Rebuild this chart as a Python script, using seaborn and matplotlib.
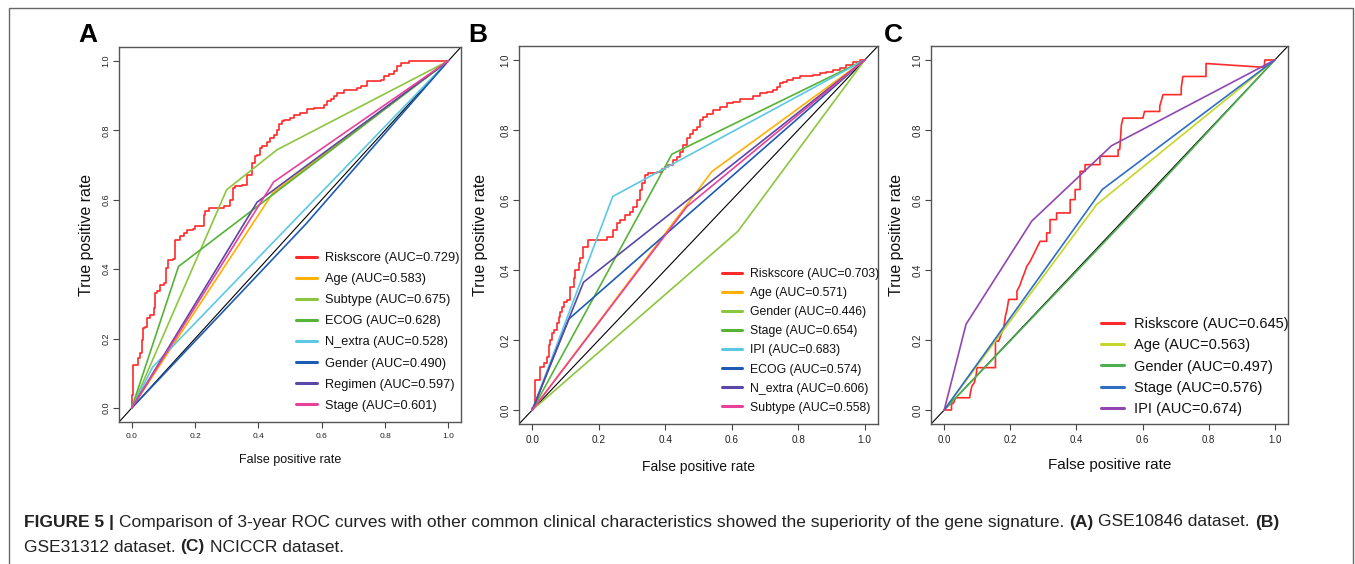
import numpy as np
import matplotlib
matplotlib.use("Agg")
import matplotlib.pyplot as plt
import seaborn as sns
from matplotlib import font_manager
from matplotlib.patches import Rectangle

W, H = 1355, 564

# ---------------- data ----------------
# panel A : GSE10846
a_names = ["Riskscore", "Age", "Subtype", "ECOG", "N_extra", "Gender", "Regimen", "Stage"]
a_auc = [0.729, 0.583, 0.675, 0.628, 0.528, 0.490, 0.597, 0.601]
a_colors = ["#FF2A2A", "#FFB000", "#8CC63E", "#55B337", "#5CC8E3", "#1D5BB5", "#5A47A8", "#E8409B"]
a_risk_fpr = [0.0, 0.005, 0.019, 0.026, 0.032, 0.037, 0.042, 0.048, 0.058, 0.069, 0.074, 0.079, 0.090,
              0.103, 0.109, 0.116, 0.131, 0.137, 0.153, 0.164, 0.174, 0.195, 0.200, 0.227, 0.232, 0.243,
              0.290, 0.311, 0.320, 0.327, 0.348, 0.364, 0.380, 0.390, 0.396, 0.406, 0.411, 0.427, 0.438,
              0.448, 0.459, 0.464, 0.475, 0.482, 0.501, 0.512, 0.533, 0.554, 0.575, 0.607, 0.617, 0.628,
              0.638, 0.649, 0.670, 0.691, 0.712, 0.723, 0.744, 0.786, 0.797, 0.812, 0.828, 0.839, 0.849,
              0.876, 1.000]
a_risk_tpr = [0.0, 0.038, 0.125, 0.144, 0.159, 0.197, 0.231, 0.235, 0.259, 0.269, 0.288, 0.331, 0.336,
              0.355, 0.360, 0.403, 0.427, 0.429, 0.485, 0.495, 0.504, 0.512, 0.516, 0.525, 0.557, 0.567,
              0.576, 0.581, 0.600, 0.634, 0.639, 0.644, 0.672, 0.706, 0.725, 0.730, 0.749, 0.754, 0.766,
              0.778, 0.788, 0.802, 0.817, 0.826, 0.831, 0.836, 0.845, 0.850, 0.862, 0.865, 0.874, 0.884,
              0.890, 0.898, 0.908, 0.915, 0.917, 0.922, 0.927, 0.941, 0.946, 0.956, 0.961, 0.970, 0.985,
              0.994, 1.000]
a_fpr = [a_risk_fpr, [0, 0.446, 1], [0, 0.300, 0.459, 1], [0, 0.148, 1], [0, 0.066, 1],
         [0, 0.550, 1], [0, 0.396, 1], [0, 0.448, 1]]
a_tpr = [a_risk_tpr, [0, 0.620, 1], [0, 0.629, 0.744, 1], [0, 0.408, 1], [0, 0.118, 1],
         [0, 0.530, 1], [0, 0.593, 1], [0, 0.651, 1]]

# panel B : GSE31312
b_names = ["Riskscore", "Age", "Gender", "Stage", "IPI", "ECOG", "N_extra", "Subtype"]
b_auc = [0.703, 0.571, 0.446, 0.654, 0.683, 0.574, 0.606, 0.558]
b_colors = ["#FF2A2A", "#FFB000", "#8CC63E", "#55B337", "#5CC8E3", "#1D5BB5", "#5A47A8", "#E8409B"]
b_risk_fpr = [0.0, 0.004, 0.009, 0.024, 0.034, 0.044, 0.049, 0.054, 0.059, 0.064, 0.074, 0.079, 0.084,
              0.089, 0.094, 0.104, 0.114, 0.124, 0.129, 0.139, 0.144, 0.154, 0.169, 0.224, 0.244, 0.254,
              0.264, 0.279, 0.294, 0.304, 0.314, 0.324, 0.329, 0.339, 0.349, 0.374, 0.389, 0.399, 0.409,
              0.424, 0.434, 0.444, 0.454, 0.464, 0.474, 0.484, 0.494, 0.505, 0.515, 0.525, 0.545, 0.565,
              0.585, 0.605, 0.625, 0.665, 0.685, 0.705, 0.725, 0.735, 0.745, 0.755, 0.765, 0.785, 0.805,
              0.845, 0.865, 0.885, 0.905, 0.925, 0.945, 0.965, 0.985, 1.0]
b_risk_tpr = [0.0, 0.005, 0.010, 0.086, 0.124, 0.133, 0.152, 0.186, 0.200, 0.219, 0.229, 0.248, 0.267,
              0.281, 0.295, 0.310, 0.314, 0.352, 0.376, 0.400, 0.419, 0.433, 0.467, 0.486, 0.495, 0.514,
              0.533, 0.543, 0.557, 0.567, 0.581, 0.600, 0.629, 0.648, 0.671, 0.676, 0.681, 0.690, 0.695,
              0.700, 0.714, 0.724, 0.738, 0.757, 0.776, 0.790, 0.800, 0.810, 0.829, 0.838, 0.845, 0.857,
              0.867, 0.876, 0.881, 0.890, 0.897, 0.905, 0.910, 0.914, 0.924, 0.933, 0.938, 0.943, 0.948,
              0.954, 0.957, 0.962, 0.967, 0.971, 0.976, 0.986, 0.995, 1.0]
b_fpr = [b_risk_fpr, [0, 0.540, 1], [0, 0.618, 1], [0, 0.420, 1], [0, 0.242, 1],
         [0, 0.110, 1], [0, 0.154, 1], [0, 0.465, 1]]
b_tpr = [b_risk_tpr, [0, 0.681, 1], [0, 0.510, 1], [0, 0.731, 1], [0, 0.610, 1],
         [0, 0.260, 1], [0, 0.365, 1], [0, 0.581, 1]]

# panel C : NCICCR
c_names = ["Riskscore", "Age", "Gender", "Stage", "IPI"]
c_auc = [0.645, 0.563, 0.497, 0.576, 0.674]
c_colors = ["#FF2A2A", "#C6D62A", "#4CB050", "#2E6FC4", "#9146B0"]
c_risk_fpr = [0.0, 0.022, 0.022, 0.029, 0.034, 0.077, 0.079, 0.084, 0.091, 0.097, 0.099, 0.155, 0.155,
              0.165, 0.170, 0.180, 0.185, 0.190, 0.195, 0.220, 0.220, 0.228, 0.235, 0.242, 0.250, 0.260,
              0.270, 0.280, 0.290, 0.310, 0.310, 0.320, 0.320, 0.340, 0.340, 0.381, 0.381, 0.396, 0.396,
              0.411, 0.411, 0.426, 0.426, 0.471, 0.471, 0.526, 0.526, 0.531, 0.536, 0.541, 0.601, 0.606,
              0.652, 0.652, 0.662, 0.717, 0.717, 0.722, 0.792, 0.792, 0.968, 0.970, 1.0]
c_risk_tpr = [0.0, 0.0, 0.016, 0.021, 0.035, 0.035, 0.049, 0.069, 0.078, 0.102, 0.121, 0.121, 0.197,
              0.197, 0.211, 0.235, 0.268, 0.287, 0.316, 0.316, 0.340, 0.354, 0.373, 0.390, 0.411, 0.425,
              0.444, 0.463, 0.482, 0.482, 0.506, 0.506, 0.544, 0.544, 0.563, 0.563, 0.601, 0.601, 0.630,
              0.630, 0.682, 0.682, 0.701, 0.701, 0.725, 0.725, 0.744, 0.744, 0.815, 0.834, 0.834, 0.853,
              0.853, 0.868, 0.901, 0.901, 0.920, 0.953, 0.953, 0.990, 0.979, 1.0, 1.0]
c_fpr = [c_risk_fpr, [0, 0.461, 1], [0, 0.600, 1], [0, 0.478, 1], [0, 0.066, 0.265, 0.506, 1]]
c_tpr = [c_risk_tpr, [0, 0.587, 1], [0, 0.594, 1], [0, 0.630, 1], [0, 0.245, 0.540, 0.755, 1]]

# ---------------- style ----------------
sns.set_theme(style="white")
installed = {f.name for f in font_manager.fontManager.ttflist}
REG = "Liberation Sans" if "Liberation Sans" in installed else "DejaVu Sans"
if "Liberation Sans Narrow" in installed:
    NARROW, NSCALE = "Liberation Sans Narrow", 1.0
else:
    NARROW, NSCALE = REG, 0.84
plt.rcParams["font.family"] = [REG, "DejaVu Sans"]

fig = plt.figure(figsize=(W / 100, H / 100), dpi=100)


def px_axes(l, t, r, b):
    return fig.add_axes([l / W, 1 - b / H, (r - l) / W, (b - t) / H])


def draw_panel(ax, names, aucs, colors, fprs, tprs, stepped, cfg):
    for i, (n, a, c, x, y) in enumerate(zip(names, aucs, colors, fprs, tprs)):
        kw = {}
        if i == 0 and stepped:
            kw["drawstyle"] = "steps-pre"
        sns.lineplot(x=x, y=y, ax=ax, color=c, lw=1.2, sort=False, estimator=None,
                     label=f"{n} (AUC={a:.3f})", **kw)
    ax.axline((0, 0), (1, 1), color="black", lw=0.8, zorder=1)
    ax.set_xlim(-0.04, 1.04)
    ax.set_ylim(-0.04, 1.04)
    ticks = [0.0, 0.2, 0.4, 0.6, 0.8, 1.0]
    ax.set_xticks(ticks)
    ax.set_yticks(ticks)
    ax.set_xticklabels([f"{t:.1f}" for t in ticks], family=NARROW, fontsize=cfg["xtick"] * NSCALE)
    ax.set_yticklabels([f"{t:.1f}" for t in ticks], family=REG, fontsize=cfg["ytick"],
                       rotation=90, va="center")
    ax.tick_params(bottom=True, left=True, direction="out", length=4.3, width=0.8,
                   color="#444444", labelcolor="#222222")
    ax.tick_params(axis="x", pad=3.5)
    ax.tick_params(axis="y", pad=2)
    for s in ax.spines.values():
        s.set_color("#555555")
        s.set_linewidth(1.0)
    ax.set_xlabel("False positive rate", family=cfg["xlab_fam"], fontsize=cfg["xlab"], color="#111111")
    ax.set_ylabel("True positive rate", family=REG, fontsize=11.4, color="#111111")
    ax.xaxis.set_label_coords(0.5, cfg["xlab_y"])
    ax.xaxis.label.set_verticalalignment("center")
    ax.yaxis.set_label_coords(cfg["ylab_x"], 0.5)
    ax.yaxis.label.set_verticalalignment("center")
    ax.yaxis.label.set_horizontalalignment("center")


def fit_legend(ax, cfg):
    fs = cfg["leg"] * NSCALE
    fs_px = fs * 100 / 72
    ls = 0.2
    ax_x, ay_top = cfg["text_x"] - 40, cfg["row0"] - 8
    leg = None
    for _ in range(3):
        leg = ax.legend(loc="upper left", bbox_to_anchor=(ax_x / W, 1 - ay_top / H),
                        bbox_transform=fig.transFigure, frameon=False, borderpad=0,
                        borderaxespad=0, labelspacing=ls, handlelength=cfg["hl"],
                        handletextpad=cfg["htp"], prop={"family": NARROW, "size": fs})
        for ln in leg.get_lines():
            ln.set_linewidth(2.2)
        for t in leg.get_texts():
            t.set_color("#111111")
        fig.canvas.draw()
        bbs = [t.get_window_extent() for t in leg.get_texts()]
        c0 = H - (bbs[0].y0 + bbs[0].y1) / 2
        cn = H - (bbs[-1].y0 + bbs[-1].y1) / 2
        spacing = (cn - c0) / (len(bbs) - 1)
        ls += (cfg["rowgap"] - spacing) / fs_px
        ax_x += cfg["text_x"] - bbs[0].x0
        ay_top += cfg["row0"] - c0
    return leg


axA = px_axes(119, 47, 461, 422)
axB = px_axes(519, 46, 878, 424)
axC = px_axes(931, 46, 1288, 424)

cfgA = dict(xtick=7.2, ytick=6.5, xlab=10.7 * NSCALE, xlab_fam=NARROW, xlab_y=(422 - 460) / 375,
            ylab_x=(86 - 119) / 342, leg=10.9, text_x=325, row0=258, rowgap=21.1, hl=1.65, htp=0.66)
cfgB = dict(xtick=8.6, ytick=7.0, xlab=11.9 * NSCALE, xlab_fam=NARROW, xlab_y=(424 - 467) / 378,
            ylab_x=(480 - 519) / 359, leg=10.5, text_x=750, row0=274, rowgap=19.1, hl=1.58, htp=0.68)
cfgC = dict(xtick=8.3, ytick=7.0, xlab=11.0, xlab_fam=REG, xlab_y=(424 - 465) / 378,
            ylab_x=(897 - 931) / 357, leg=12.5, text_x=1134, row0=324, rowgap=21.3, hl=1.56, htp=0.69)

draw_panel(axA, a_names, a_auc, a_colors, a_fpr, a_tpr, True, cfgA)
draw_panel(axB, b_names, b_auc, b_colors, b_fpr, b_tpr, True, cfgB)
draw_panel(axC, c_names, c_auc, c_colors, c_fpr, c_tpr, False, cfgC)

for ax, cfg in [(axA, cfgA), (axB, cfgB), (axC, cfgC)]:
    fit_legend(ax, cfg)

# panel letters
for letter, x in [("A", 88), ("B", 478), ("C", 893)]:
    fig.text(x / W, 1 - 35 / H, letter, fontsize=19, fontweight="bold", ha="center", va="center",
             family=REG, color="black")

# outer frame (open at the bottom, like the crop)
fig.add_artist(Rectangle((9 / W, -0.05), (1353 - 9) / W, 1.05 - 8 / H, transform=fig.transFigure,
                         fill=False, edgecolor="#666666", lw=1.0, clip_on=False))

# caption with bold runs
line1 = [("FIGURE 5 |", True),
         ("Comparison of 3-year ROC curves with other common clinical characteristics showed the "
          "superiority of the gene signature.", False),
         ("(A)", True), ("GSE10846 dataset.", False), ("(B)", True)]
line2 = [("GSE31312 dataset.", False), ("(C)", True), ("NCICCR dataset.", False)]


def draw_runs(runs, x0, yc, size):
    r = fig.canvas.get_renderer()
    x = x0
    arts = []
    gap = 0.28 * size * 100 / 72
    for txt, bold in runs:
        t = fig.text(x / W, 1 - yc / H, txt, fontsize=size, fontweight="bold" if bold else "normal",
                     ha="left", va="center", family=REG, color="#222222")
        bb = t.get_window_extent(r)
        x += bb.width + gap
        arts.append(t)
    return arts, x - gap - x0


size = 11.3
arts, width = draw_runs(line1, 24, 522, size)
for a in arts:
    a.remove()
size = size * 1256 / width
draw_runs(line1, 24, 522, size)
draw_runs(line2, 24, 547, size)

fig.savefig("out.png", dpi=100)
